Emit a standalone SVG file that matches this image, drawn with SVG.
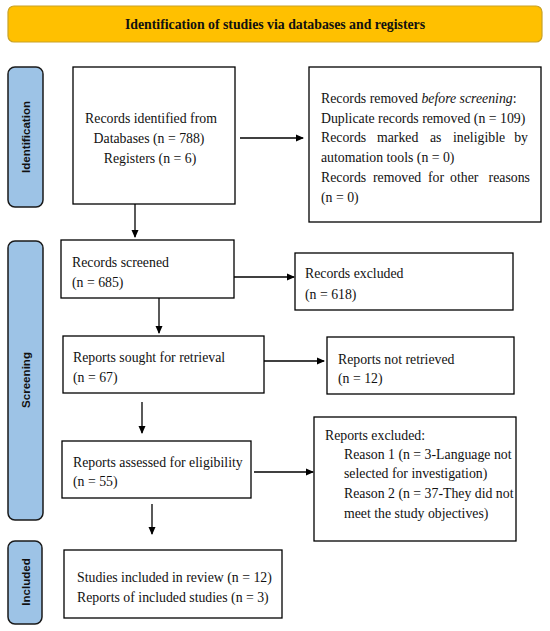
<svg xmlns="http://www.w3.org/2000/svg" width="550" height="631" viewBox="0 0 550 631">
<defs>
<marker id="ah" markerWidth="8" markerHeight="8" refX="7" refY="4" orient="auto" markerUnits="userSpaceOnUse">
<path d="M0,0.5 L8,4 L0,7.5 Z" fill="#000"/>
</marker>
<style>
.box{fill:#fff;stroke:#000;stroke-width:1.3}
.pill{fill:#9dc3e6;stroke:#1a1a1a;stroke-width:1.5}
.t{font-family:"Liberation Serif","Times New Roman",serif;font-size:13.8px;fill:#111}
.side{font-family:"Liberation Sans",Arial,sans-serif;font-size:11.6px;font-weight:bold;fill:#111}
.title{font-family:"Liberation Serif","Times New Roman",serif;font-size:13.8px;font-weight:bold;fill:#111}
.c{stroke:#000;stroke-width:1.3;fill:none}
</style>
</defs>
<rect width="550" height="631" fill="#fff"/>
<g id="banner">
<rect x="8" y="6" width="534" height="36" rx="6" fill="#ffc000" stroke="#c9a227" stroke-width="1.2"/>
<text class="title" x="275" y="28.5" text-anchor="middle">Identification of studies via databases and registers</text>
</g>
<g id="phase-identification">
<rect class="pill" x="8" y="67" width="35" height="140" rx="7"/>
<text class="side" transform="translate(30,137) rotate(-90)" text-anchor="middle">Identification</text>
</g>
<g id="phase-screening">
<rect class="pill" x="8" y="241" width="35" height="279" rx="7"/>
<text class="side" transform="translate(30,380) rotate(-90)" text-anchor="middle">Screening</text>
</g>
<g id="phase-included">
<rect class="pill" x="8" y="541" width="34" height="83" rx="7"/>
<text class="side" transform="translate(29.5,582) rotate(-90)" text-anchor="middle">Included</text>
</g>
<g id="records-identified">
<rect class="box" x="73" y="67" width="162" height="137"/>
<text class="t" x="151" y="122.5" text-anchor="middle">Records identified from</text>
<text class="t" x="149" y="143" text-anchor="middle">Databases (n = 788)</text>
<text class="t" x="150" y="163" text-anchor="middle">Registers (n = 6)</text>
</g>
<g id="records-removed">
<rect class="box" x="309" y="67" width="232" height="155"/>
<text class="t" x="321" y="102.5">Records removed <tspan font-style="italic">before screening</tspan>:</text>
<text class="t" x="321" y="122.5">Duplicate records removed (n = 109)</text>
<text class="t" y="141.5"><tspan x="321">Records</tspan><tspan x="377">marked</tspan><tspan x="430">as</tspan><tspan x="453">ineligible</tspan></text>
<text class="t" x="528" y="141.5" text-anchor="end">by</text>
<text class="t" x="321" y="161.5">automation tools (n = 0)</text>
<text class="t" y="181.5"><tspan x="321">Records</tspan><tspan x="373">removed</tspan><tspan x="428">for</tspan><tspan x="450">other</tspan></text>
<text class="t" x="530" y="181.5" text-anchor="end">reasons</text>
<text class="t" x="321" y="201.5">(n = 0)</text>
</g>
<g id="records-screened">
<rect class="box" x="61" y="240" width="173" height="58"/>
<text class="t" x="72" y="266.5">Records screened</text>
<text class="t" x="72" y="286.5">(n = 685)</text>
</g>
<g id="records-excluded">
<rect class="box" x="295" y="253" width="218" height="57"/>
<text class="t" x="305" y="277.5">Records excluded</text>
<text class="t" x="305" y="298.5">(n = 618)</text>
</g>
<g id="reports-sought">
<rect class="box" x="63" y="336" width="201" height="57"/>
<text class="t" x="73" y="361.5">Reports sought for retrieval</text>
<text class="t" x="73" y="381.5">(n = 67)</text>
</g>
<g id="reports-not-retrieved">
<rect class="box" x="327" y="337" width="187" height="57"/>
<text class="t" x="338" y="363.5">Reports not retrieved</text>
<text class="t" x="338" y="382.5">(n = 12)</text>
</g>
<g id="reports-assessed">
<rect class="box" x="62" y="441" width="189" height="57"/>
<text class="t" x="73" y="466.5">Reports assessed for eligibility</text>
<text class="t" x="73" y="485.5">(n = 55)</text>
</g>
<g id="reports-excluded">
<rect class="box" x="314" y="417" width="202" height="124"/>
<text class="t" x="325" y="439.5">Reports excluded:</text>
<text class="t" x="344" y="458.5">Reason 1 (n = 3-Language not</text>
<text class="t" x="344" y="477.5">selected for investigation)</text>
<text class="t" x="344" y="497.5">Reason 2 (n = 37-They did not</text>
<text class="t" x="344" y="517.5">meet the study objectives)</text>
</g>
<g id="studies-included">
<rect class="box" x="64" y="550" width="218" height="68"/>
<text class="t" x="77" y="581.5">Studies included in review (n = 12)</text>
<text class="t" x="77" y="601.5">Reports of included studies (n = 3)</text>
</g>
<g id="connectors">
<line class="c" x1="240" y1="138" x2="303" y2="138" marker-end="url(#ah)"/>
<line class="c" x1="135" y1="204" x2="135" y2="237" marker-end="url(#ah)"/>
<line class="c" x1="234" y1="277" x2="294" y2="277" marker-end="url(#ah)"/>
<line class="c" x1="159" y1="298" x2="159" y2="333" marker-end="url(#ah)"/>
<line class="c" x1="264" y1="361" x2="324" y2="361" marker-end="url(#ah)"/>
<line class="c" x1="142" y1="402" x2="142" y2="433" marker-end="url(#ah)"/>
<line class="c" x1="254" y1="472" x2="313" y2="472" marker-end="url(#ah)"/>
<line class="c" x1="152" y1="504" x2="152" y2="534" marker-end="url(#ah)"/>
</g>
</svg>
